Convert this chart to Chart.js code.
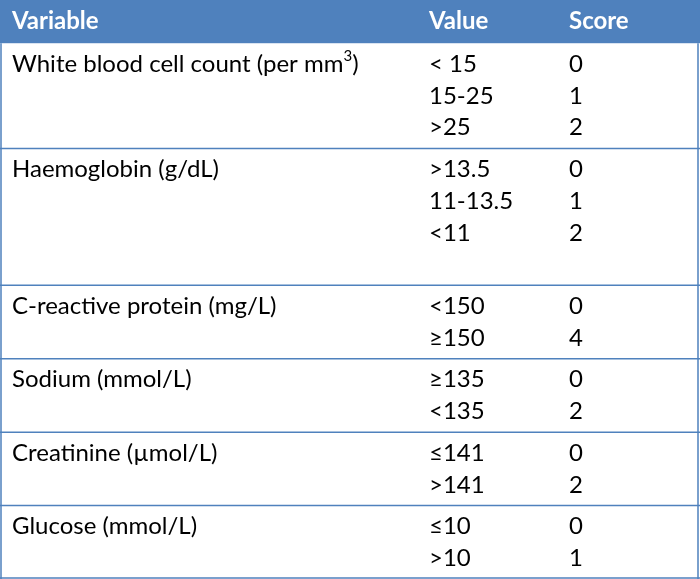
<!DOCTYPE html>
<html>
<head>
<meta charset="utf-8">
<script src="https://cdn.jsdelivr.net/npm/chart.js@4.4.1/dist/chart.umd.min.js"></script>
<style>
  html, body { margin: 0; padding: 0; background: #fff; }
  #wrap { width: 700px; height: 579px; }
</style>
</head>
<body>
<div id="wrap"><canvas id="scoreTable"></canvas></div>
<script>
// table content
const headers = ['Variable', 'Value', 'Score'];
const variables = [
    'White blood cell count (per mm³)',
    'Haemoglobin (g/dL)',
    'C-reactive protein (mg/L)',
    'Sodium (mmol/L)',
    'Creatinine (µmol/L)',
    'Glucose (mmol/L)'
];
const valueRanges = [
    ['< 15', '15-25', '>25'],
    ['>13.5', '11-13.5', '<11'],
    ['<150', '≥150'],
    ['≥135', '<135'],
    ['≤141', '>141'],
    ['≤10', '>10']
];
const scores = [
    [0, 1, 2],
    [0, 1, 2],
    [0, 4],
    [0, 2],
    [0, 2],
    [0, 1]
];
// empty text lines left at the bottom of a group
const blankLines = [0, 1, 0, 0, 0, 0];

// layout (y in text-line units, x in table units)
const headerH = 1.36;
const groupPad = 0.31;
const colX = [12, 429, 569];
const blue = '#4f81bd';
const font = 'Lato, "Open Sans", sans-serif';
const fontSize = 24;

let groupTop = [];
let total = headerH;
valueRanges.forEach((v, i) => {
    groupTop.push(total);
    total += v.length + blankLines[i] + groupPad;
});

// draws text, with a "³" set as a real superscript digit
function drawLabel(ctx, text, px, py) {
    const parts = text.split('³');
    let cx = px;
    parts.forEach((part, i) => {
        ctx.font = fontSize + 'px ' + font;
        ctx.fillText(part, cx, py);
        cx += ctx.measureText(part).width;
        if (i < parts.length - 1) {
            ctx.font = Math.round(fontSize * 0.62) + 'px ' + font;
            ctx.fillText('3', cx, py - fontSize * 0.32);
            cx += ctx.measureText('3').width;
        }
    });
    ctx.font = fontSize + 'px ' + font;
}

const tablePlugin = {
    id: 'tableDraw',
    beforeDatasetsDraw(chart) {
        const ctx = chart.ctx;
        const x = chart.scales.x;
        const y = chart.scales.y;
        const left = x.getPixelForValue(0);
        const right = x.getPixelForValue(700);
        ctx.save();

        // header band
        ctx.fillStyle = blue;
        ctx.fillRect(left, y.getPixelForValue(0), right - left, y.getPixelForValue(headerH) - y.getPixelForValue(0));
        ctx.textBaseline = 'middle';
        ctx.textAlign = 'left';
        ctx.fillStyle = '#fff';
        ctx.font = 'bold ' + fontSize + 'px ' + font;
        headers.forEach((h, i) => {
            ctx.fillText(h, x.getPixelForValue(colX[i]), y.getPixelForValue(headerH / 2));
        });

        // body rows
        ctx.fillStyle = '#000';
        ctx.font = fontSize + 'px ' + font;
        variables.forEach((name, g) => {
            const top = groupTop[g] + groupPad / 2;
            drawLabel(ctx, name, x.getPixelForValue(colX[0]), y.getPixelForValue(top + 0.5));
            valueRanges[g].forEach((v, k) => {
                const py = y.getPixelForValue(top + k + 0.5);
                ctx.fillText(v, x.getPixelForValue(colX[1]), py);
                ctx.fillText(String(scores[g][k]), x.getPixelForValue(colX[2]), py);
            });
        });

        // group separators and border
        ctx.strokeStyle = blue;
        ctx.lineWidth = 1.5;
        groupTop.slice(1).concat([total]).forEach(t => {
            const py = Math.min(y.getPixelForValue(t), chart.height - 1);
            ctx.beginPath();
            ctx.moveTo(left, py);
            ctx.lineTo(right, py);
            ctx.stroke();
        });
        ctx.beginPath();
        ctx.moveTo(left + 1, y.getPixelForValue(headerH));
        ctx.lineTo(left + 1, y.getPixelForValue(total));
        ctx.moveTo(right - 2, y.getPixelForValue(headerH));
        ctx.lineTo(right - 2, y.getPixelForValue(total));
        ctx.stroke();
        ctx.restore();
    }
};

new Chart(document.getElementById('scoreTable').getContext('2d'), {
    type: 'scatter',
    data: { datasets: [] },
    options: {
        responsive: true,
        maintainAspectRatio: false,
        animation: false,
        layout: { padding: 0 },
        plugins: { legend: { display: false }, tooltip: { enabled: false } },
        scales: {
            x: { type: 'linear', min: 0, max: 700, display: false },
            y: { type: 'linear', min: 0, max: total, reverse: true, display: false }
        }
    },
    plugins: [tablePlugin]
});
</script>
</body>
</html>
